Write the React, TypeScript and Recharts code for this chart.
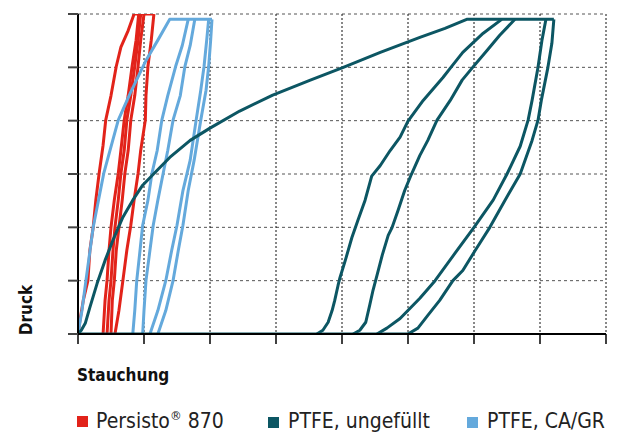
import React from 'react';
import { LineChart, Line, XAxis, YAxis, CartesianGrid } from 'recharts';

type P = [number, number];

const xTicks = [0, 1, 2, 3, 4, 5, 6, 7, 8];
const yTicks = [0, 1, 2, 3, 4, 5, 6];

const legendLabels = ['Persisto', 'PTFE, ungefüllt', 'PTFE, CA/GR'];
const xLabel = 'Stauchung';
const yLabel = 'Druck';

// Persisto 870
const persistoLoading: P[] = [[0, 0], [0.03, 0.26], [0.08, 0.63], [0.15, 1.0], [0.18, 1.57], [0.23, 2.0], [0.27, 2.51], [0.32, 3.01], [0.38, 3.54], [0.42, 4.01], [0.5, 4.47], [0.58, 5.02], [0.65, 5.38], [0.76, 5.69], [0.85, 6.0], [1.15, 6.0]];
const persistoUnload: P[] = [[1.15, 6.0], [1.11, 5.51], [1.06, 5.02], [1.03, 4.47], [1.02, 4.01], [0.95, 3.44], [0.91, 3.01], [0.85, 2.51], [0.8, 2.04], [0.74, 1.57], [0.68, 1.0], [0.62, 0.44], [0.56, 0]];
const persistoCycle1: P[] = [[0.38, 0], [0.41, 0.63], [0.44, 1.0], [0.47, 1.57], [0.5, 2.0], [0.55, 2.51], [0.61, 3.01], [0.65, 3.44], [0.7, 4.01], [0.76, 4.47], [0.82, 5.02], [0.88, 5.51], [0.92, 6.0]];
const persistoCycle2: P[] = [[0.44, 0], [0.47, 0.63], [0.5, 1.0], [0.53, 1.57], [0.56, 2.0], [0.61, 2.51], [0.65, 3.01], [0.7, 3.44], [0.74, 4.01], [0.8, 4.47], [0.86, 5.02], [0.91, 5.51], [0.95, 6.0]];
const persistoCycle3: P[] = [[0.5, 0], [0.52, 0.63], [0.55, 1.0], [0.58, 1.57], [0.62, 2.0], [0.67, 2.51], [0.71, 3.01], [0.76, 3.44], [0.8, 4.01], [0.86, 4.47], [0.91, 5.02], [0.95, 5.51], [1.0, 6.0]];

// PTFE, CA/GR
const caLoading: P[] = [[0, 0], [0.06, 0.44], [0.12, 1.0], [0.23, 2.0], [0.39, 3.01], [0.61, 4.01], [0.79, 4.51], [1.03, 5.13], [1.21, 5.51], [1.39, 5.9], [2.03, 5.9]];
const caUnload: P[] = [[2.03, 5.9], [2.01, 5.51], [1.98, 5.02], [1.94, 4.57], [1.86, 4.01], [1.76, 3.26], [1.67, 2.69], [1.59, 2.04], [1.52, 1.57], [1.44, 1.0], [1.33, 0.44], [1.21, 0]];
const caCycle3: P[] = [[1.09, 0], [1.21, 0.44], [1.33, 1.0], [1.42, 1.57], [1.5, 2.04], [1.59, 2.69], [1.7, 3.26], [1.79, 4.01], [1.86, 4.57], [1.91, 5.02], [1.95, 5.51], [1.98, 5.9]];
const caCycle2: P[] = [[0.98, 0], [1.0, 0.44], [1.03, 1.0], [1.09, 1.57], [1.14, 2.04], [1.21, 2.51], [1.29, 3.01], [1.36, 3.44], [1.44, 4.01], [1.55, 4.47], [1.62, 5.02], [1.7, 5.41], [1.77, 5.9]];
const caCycle1: P[] = [[0.83, 0], [0.86, 0.44], [0.89, 1.0], [0.94, 1.57], [0.98, 2.04], [1.06, 2.51], [1.12, 3.01], [1.2, 3.44], [1.27, 4.01], [1.36, 4.47], [1.48, 5.02], [1.58, 5.41], [1.67, 5.9]];

// PTFE, ungefüllt
const ptfeLoading: P[] = [[0, 0], [0.05, 0.07], [0.11, 0.2], [0.18, 0.5], [0.29, 0.95], [0.41, 1.38], [0.53, 1.76], [0.68, 2.19], [0.83, 2.51], [0.98, 2.79], [1.2, 3.07], [1.39, 3.31], [1.7, 3.63], [2.0, 3.86], [2.45, 4.18], [2.95, 4.48], [3.52, 4.76], [4.02, 5.0], [4.58, 5.28], [5.18, 5.56], [5.56, 5.73], [5.89, 5.9], [7.21, 5.9]];
const ptfeUnload: P[] = [[7.21, 5.9], [7.18, 5.45], [7.12, 5.0], [7.02, 4.38], [6.97, 4.01], [6.88, 3.63], [6.7, 3.0], [6.47, 2.51], [6.24, 2.0], [6.02, 1.57], [5.83, 1.19], [5.68, 1.0], [5.48, 0.63], [5.3, 0.35], [5.15, 0.11], [5.0, 0]];
const ptfeBase: P[] = [[0, 0], [5.0, 0]];
const ptfeCycle3: P[] = [[4.53, 0], [4.68, 0.11], [4.88, 0.29], [5.18, 0.67], [5.41, 1.0], [5.71, 1.51], [6.0, 2.0], [6.29, 2.51], [6.5, 3.0], [6.7, 3.52], [6.82, 4.01], [6.88, 4.38], [6.97, 5.0], [7.03, 5.51], [7.09, 5.9]];
const ptfeCycle2: P[] = [[4.17, 0], [4.27, 0.07], [4.36, 0.22], [4.42, 0.54], [4.47, 0.82], [4.53, 1.1], [4.61, 1.48], [4.7, 1.85], [4.76, 2.0], [4.85, 2.32], [4.95, 2.69], [5.05, 2.99], [5.18, 3.35], [5.3, 3.63], [5.44, 4.01], [5.64, 4.38], [5.82, 4.76], [5.98, 5.0], [6.2, 5.32], [6.39, 5.6], [6.62, 5.9]];
const ptfeCycle1: P[] = [[3.62, 0], [3.71, 0.07], [3.79, 0.22], [3.85, 0.44], [3.89, 0.63], [3.94, 0.91], [3.97, 1.06], [4.05, 1.38], [4.15, 1.81], [4.24, 2.13], [4.35, 2.51], [4.45, 2.96], [4.58, 3.16], [4.73, 3.44], [4.88, 3.69], [5.0, 3.99], [5.23, 4.38], [5.53, 4.81], [5.65, 5.0], [5.83, 5.28], [6.14, 5.64], [6.42, 5.9]];

const RED = '#e2231a';
const TEAL = '#0c5663';
const BLUE = '#64a9dc';

const series = [
  { color: RED, curves: [persistoLoading, persistoUnload, persistoCycle1, persistoCycle2, persistoCycle3] },
  { color: BLUE, curves: [caLoading, caUnload, caCycle3, caCycle2, caCycle1] },
  { color: TEAL, curves: [ptfeLoading, ptfeUnload, ptfeBase, ptfeCycle3, ptfeCycle2, ptfeCycle1] },
];

const toData = (pts: P[]) => pts.map(([x, y]) => ({ x, y }));

const legendFont = "'DejaVu Sans Condensed', 'DejaVu Sans', sans-serif";

const EmptyTick = () => <g />;

export default function App() {
  return (
    <div style={{ position: 'absolute', left: 0, top: 0, width: 620, height: 433, background: '#fff' }}>
      <LineChart width={620} height={433} margin={{ top: 14, right: 14, left: 48, bottom: 69 }}>
        <CartesianGrid vertical={false} stroke="#555" strokeDasharray="3 3" />
        <CartesianGrid horizontal={false} stroke="#111" strokeDasharray="2 2" />
        <XAxis
          type="number"
          dataKey="x"
          domain={[0, 8]}
          ticks={xTicks}
          interval={0}
          height={30}
          tick={EmptyTick}
          tickSize={10}
          axisLine={{ stroke: '#000', strokeWidth: 2 }}
          tickLine={{ stroke: '#000', strokeWidth: 1.5 }}
          allowDataOverflow
        />
        <YAxis
          type="number"
          dataKey="y"
          domain={[0, 6]}
          ticks={yTicks}
          interval={0}
          width={30}
          tick={EmptyTick}
          tickSize={10}
          axisLine={{ stroke: '#000', strokeWidth: 2 }}
          tickLine={{ stroke: '#444', strokeWidth: 2 }}
          allowDataOverflow
        />
        {series.map((s, si) =>
          s.curves.map((c, ci) => (
            <Line
              key={`${si}-${ci}`}
              data={toData(c)}
              dataKey="y"
              type="linear"
              stroke={s.color}
              strokeWidth={3}
              strokeLinejoin="round"
              dot={false}
              activeDot={false}
              isAnimationActive={false}
            />
          ))
        )}
      </LineChart>
      <svg width={620} height={433} style={{ position: 'absolute', left: 0, top: 0, pointerEvents: 'none' }}>
        <text x={77} y={381} fontFamily={legendFont} fontWeight="bold" fontSize={17} fill="#111">{xLabel}</text>
        <text x={32} y={310} transform="rotate(-90 32 310)" textAnchor="middle" fontFamily={legendFont} fontWeight="bold" fontSize={17} fill="#111">{yLabel}</text>
        <rect x={77} y={416} width={11} height={11} fill={RED} />
        <text x={96} y={428} fontFamily={legendFont} fontSize={21} fill="#222">
          {legendLabels[0]}
          <tspan fontSize={13} dy={-8}>®</tspan>
          <tspan dy={8}> 870</tspan>
        </text>
        <rect x={268} y={417} width={11} height={11} fill={TEAL} />
        <text x={288} y={428} fontFamily={legendFont} fontSize={21} fill="#222">{legendLabels[1]}</text>
        <rect x={467} y={417} width={11} height={11} fill={BLUE} />
        <text x={487} y={428} fontFamily={legendFont} fontSize={21} fill="#222">{legendLabels[2]}</text>
      </svg>
    </div>
  );
}
